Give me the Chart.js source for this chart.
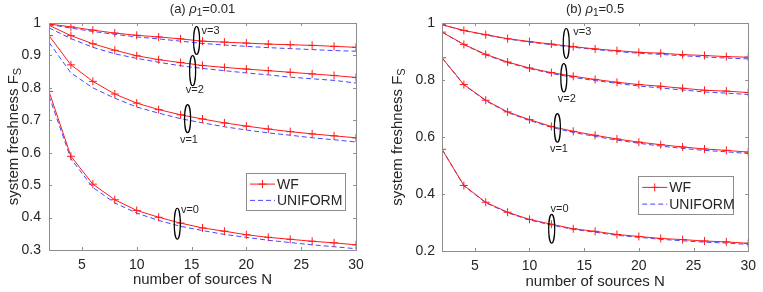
<!DOCTYPE html>
<html><head><meta charset="utf-8">
<script src="https://cdn.jsdelivr.net/npm/chart.js@4/dist/chart.umd.min.js"></script>
<style>
body{margin:0;background:#fff;width:763px;height:292px;overflow:hidden;position:relative}
.c{position:absolute;top:0;height:292px}
</style></head><body>
<div class="c" style="left:0;width:380px"><canvas id="a"></canvas></div>
<div class="c" style="left:385px;width:378px"><canvas id="b"></canvas></div>
<script>
// ---------- data ----------
const N = [2,4,6,8,10,12,14,16,18,20,22,24,26,28,30];
const xTicks = [5,10,15,20,25,30];
const yTicksA = [0.3,0.4,0.5,0.6,0.7,0.8,0.9,1];
const yTickLabelsA = ['0.3','0.4','0.5','0.6','0.7','0.8','0.9','1'];
const yTicksB = [0.2,0.4,0.6,0.8,1];
const yTickLabelsB = ['0.2','0.4','0.6','0.8','1'];
const seriesNames = ['WF','UNIFORM'];
const vLabels = ['v=0','v=1','v=2','v=3'];

// (a) rho1 = 0.01
const wfA0 = [0.789,0.589,0.503,0.455,0.422,0.401,0.383,0.368,0.358,0.347,0.339,0.333,0.327,0.322,0.316];
const unA0 = [0.775,0.581,0.493,0.445,0.414,0.391,0.373,0.360,0.348,0.339,0.330,0.323,0.316,0.310,0.304];
const wfA1 = [0.961,0.871,0.820,0.781,0.753,0.733,0.717,0.704,0.692,0.682,0.673,0.665,0.658,0.652,0.646];
const unA1 = [0.940,0.846,0.800,0.768,0.741,0.722,0.705,0.692,0.680,0.670,0.661,0.654,0.646,0.640,0.633];
const wfA2 = [0.993,0.961,0.936,0.916,0.899,0.887,0.878,0.869,0.863,0.858,0.853,0.848,0.843,0.838,0.832];
const unA2 = [0.985,0.952,0.925,0.905,0.891,0.879,0.868,0.860,0.853,0.846,0.840,0.833,0.828,0.823,0.815];
const wfA3 = [0.997,0.988,0.978,0.969,0.962,0.957,0.951,0.944,0.941,0.938,0.935,0.933,0.931,0.928,0.925];
const unA3 = [0.996,0.984,0.974,0.965,0.957,0.951,0.944,0.937,0.932,0.928,0.924,0.921,0.918,0.915,0.913];

// (b) rho1 = 0.5
const wfB0 = [0.557,0.430,0.371,0.336,0.311,0.294,0.278,0.269,0.258,0.251,0.244,0.240,0.235,0.232,0.227];
const unB0 = [0.557,0.429,0.369,0.334,0.309,0.291,0.276,0.266,0.255,0.248,0.241,0.236,0.231,0.228,0.223];
const wfB1 = [0.878,0.784,0.729,0.688,0.661,0.637,0.620,0.606,0.593,0.582,0.573,0.565,0.558,0.553,0.547];
const unB1 = [0.878,0.783,0.727,0.686,0.658,0.634,0.616,0.602,0.589,0.578,0.568,0.560,0.553,0.548,0.542];
const wfB2 = [0.968,0.925,0.890,0.863,0.842,0.826,0.813,0.802,0.792,0.784,0.778,0.771,0.764,0.761,0.756];
const unB2 = [0.968,0.924,0.888,0.861,0.840,0.823,0.809,0.798,0.788,0.779,0.772,0.765,0.758,0.754,0.749];
const wfB3 = [0.994,0.974,0.959,0.945,0.935,0.926,0.917,0.909,0.903,0.897,0.894,0.889,0.886,0.882,0.880];
const unB3 = [0.994,0.973,0.958,0.944,0.933,0.924,0.915,0.907,0.900,0.894,0.890,0.885,0.881,0.877,0.874];

// annotation anchors (data coordinates): ellipse centre and label anchor
const ellA_N = [13.7,14.64,15.1,15.46];
const ellA_F = [0.381,0.705,0.853,0.946];
const labA_N = [14.03,14.76,15.3,15.92];
const labA_F = [0.422,0.640,0.792,0.974];
const ellB_N = [12.03,12.55,13.14,13.36];
const ellB_F = [0.278,0.632,0.808,0.928];
const labB_N = [12.75,12.69,13.41,14.01];
const labB_F = [0.349,0.557,0.735,0.968];

// ---------- styling ----------
const FONT = '"Liberation Sans", Arial, Helvetica, sans-serif';
const TXT = '#262626';
const AXC = '#8e8e8e';
const RED = '#ff1a1a';
const BLUE = '#4646ff';

function pts(arr){ return N.map((n,i)=>({x:n,y:arr[i]})); }
function wfSet(arr){ return {label:seriesNames[0], data:pts(arr), borderColor:RED, borderWidth:1, pointStyle:'cross', pointRadius:4, pointBorderColor:RED, pointBorderWidth:1, tension:0, fill:false, order:1}; }
function unSet(arr){ return {label:seriesNames[1], data:pts(arr), borderColor:BLUE, borderWidth:1, borderDash:[5,3], pointRadius:0, tension:0, fill:false, order:2}; }

function drawRich(ctx, segs, cx, cy, align){
  let w = 0;
  segs.forEach(s=>{ ctx.font = (s.italic?'italic ':'') + s.size + 'px ' + FONT; s.w = ctx.measureText(s.t).width; w += s.w; });
  let x = align==='center' ? cx - w/2 : cx;
  ctx.textBaseline = 'alphabetic'; ctx.textAlign = 'left';
  segs.forEach(s=>{ ctx.font = (s.italic?'italic ':'') + s.size + 'px ' + FONT; ctx.fillText(s.t, x, cy + (s.dy||0)); x += s.w; });
}

function makePlugin(cfg){
  return {
    id:'matlabDecor',
    afterDraw(chart){
      const {ctx, chartArea:ca, scales:{x, y}} = chart;
      ctx.save();
      // frame
      ctx.strokeStyle = AXC; ctx.lineWidth = 1;
      ctx.strokeRect(Math.round(ca.left)+0.5, Math.round(ca.top)+0.5, Math.round(ca.right-ca.left), Math.round(ca.bottom-ca.top));
      // inward ticks
      ctx.beginPath();
      xTicks.forEach(v=>{ const px = Math.round(x.getPixelForValue(v))+0.5;
        ctx.moveTo(px, ca.bottom); ctx.lineTo(px, ca.bottom-3);
        ctx.moveTo(px, ca.top); ctx.lineTo(px, ca.top+3); });
      cfg.yTicks.forEach(v=>{ const py = Math.round(y.getPixelForValue(v))+0.5;
        ctx.moveTo(ca.left, py); ctx.lineTo(ca.left+3, py);
        ctx.moveTo(ca.right, py); ctx.lineTo(ca.right-3, py); });
      ctx.stroke();
      // ellipses and v labels
      ctx.strokeStyle = '#000'; ctx.lineWidth = 1.2; ctx.fillStyle = TXT;
      for (let i=0;i<4;i++){
        const ex = x.getPixelForValue(cfg.ellN[i]), ey = y.getPixelForValue(cfg.ellF[i]);
        ctx.beginPath(); ctx.ellipse(ex, ey, 3, cfg.ellRy[i], 0, 0, Math.PI*2); ctx.stroke();
        const lx = x.getPixelForValue(cfg.labN[i]), ly = y.getPixelForValue(cfg.labF[i]);
        ctx.font = '11px ' + FONT; ctx.textBaseline = 'middle';
        ctx.textAlign = cfg.labAlign[i];
        ctx.fillText(vLabels[i], lx, ly);
      }
      // title
      ctx.fillStyle = TXT;
      const tcx = (ca.left+ca.right)/2;
      drawRich(ctx, [
        {t:cfg.titlePre, size:13},
        {t:'\u03C1', size:13, italic:true},
        {t:'1', size:10, dy:3},
        {t:cfg.titlePost, size:13}
      ], tcx, 13, 'center');
      // x axis title
      ctx.font = '15px ' + FONT; ctx.textAlign = 'center'; ctx.textBaseline = 'middle';
      ctx.fillText('number of sources N', tcx, cfg.xTitleY);
      // y axis title
      ctx.save();
      ctx.translate(cfg.yTitleX, (ca.top+ca.bottom)/2);
      ctx.rotate(-Math.PI/2);
      drawRich(ctx, [
        {t:'system freshness F', size:15},
        {t:'S', size:11, dy:3}
      ], 0, 5, 'center');
      ctx.restore();
      // legend
      const L = ca.right - cfg.legRight - cfg.legW, T = ca.top + cfg.legTop;
      ctx.fillStyle = '#fff';
      ctx.fillRect(L, T, cfg.legW, cfg.legH);
      ctx.strokeStyle = AXC; ctx.lineWidth = 1;
      ctx.strokeRect(Math.round(L)+0.5, Math.round(T)+0.5, cfg.legW, cfg.legH);
      const rows = [T + cfg.legH*0.3, T + cfg.legH*0.74];
      ctx.strokeStyle = RED; ctx.lineWidth = 1; ctx.setLineDash([]);
      ctx.beginPath(); ctx.moveTo(L+4, rows[0]); ctx.lineTo(L+29, rows[0]); ctx.stroke();
      ctx.beginPath(); ctx.moveTo(L+16.5-4, rows[0]); ctx.lineTo(L+16.5+4, rows[0]);
      ctx.moveTo(L+16.5, rows[0]-4); ctx.lineTo(L+16.5, rows[0]+4); ctx.stroke();
      ctx.strokeStyle = BLUE; ctx.setLineDash([5,3]);
      ctx.beginPath(); ctx.moveTo(L+4, rows[1]); ctx.lineTo(L+29, rows[1]); ctx.stroke();
      ctx.setLineDash([]);
      ctx.fillStyle = TXT; ctx.font = '14px ' + FONT; ctx.textAlign = 'left'; ctx.textBaseline = 'middle';
      ctx.fillText(seriesNames[0], L+31, rows[0]+1);
      ctx.fillText(seriesNames[1], L+31, rows[1]+1);
      ctx.restore();
    }
  };
}

function makeChart(id, sets, cfg){
  new Chart(document.getElementById(id), {
    type:'line',
    data:{datasets:sets},
    options:{
      responsive:true, maintainAspectRatio:false, animation:false,
      layout:{padding:{top:cfg.padTop, right:cfg.padRight, left:0, bottom:0}},
      plugins:{legend:{display:false}, tooltip:{enabled:false}, title:{display:false}},
      scales:{
        x:{type:'linear', min:2, max:30,
           afterBuildTicks:s=>{ s.ticks = xTicks.map(v=>({value:v})); },
           grid:{display:false, drawTicks:false}, border:{display:false},
           ticks:{padding:7, color:TXT, font:{family:FONT, size:14}, maxRotation:0, callback:v=>String(v)},
           afterFit:s=>{ s.height = cfg.xH; }},
        y:{type:'linear', min:cfg.yMin, max:1,
           afterBuildTicks:s=>{ s.ticks = cfg.yTicks.map(v=>({value:v})); },
           grid:{display:false, drawTicks:false}, border:{display:false},
           ticks:{padding:cfg.yPad, color:TXT, font:{family:FONT, size:14},
                  callback:v=>{ const i = cfg.yTicks.findIndex(t=>Math.abs(t-v)<1e-9); return i>=0 ? cfg.yTickLabels[i] : ''; }},
           afterFit:s=>{ s.width = cfg.yW; }}
      }
    },
    plugins:[makePlugin(cfg)]
  });
}

makeChart('a', [wfSet(wfA0),unSet(unA0),wfSet(wfA1),unSet(unA1),wfSet(wfA2),unSet(unA2),wfSet(wfA3),unSet(unA3)], {
  padTop:23, padRight:24, xH:42, yW:49, yMin:0.3, yPad:8,
  yTicks:yTicksA, yTickLabels:yTickLabelsA,
  ellN:ellA_N, ellF:ellA_F, ellRy:[15.5,14,15,14], labN:labA_N, labF:labA_F,
  labAlign:['left','center','center','left'],
  titlePre:'(a) ', titlePost:'=0.01', xTitleY:280, yTitleX:13,
  legRight:11, legW:99, legH:37, legTop:150
});
makeChart('b', [wfSet(wfB0),unSet(unB0),wfSet(wfB1),unSet(unB1),wfSet(wfB2),unSet(unB2),wfSet(wfB3),unSet(unB3)], {
  padTop:23, padRight:10, xH:41, yW:57, yMin:0.2, yPad:7,
  yTicks:yTicksB, yTickLabels:yTickLabelsB,
  ellN:ellB_N, ellF:ellB_F, ellRy:[14.3,14.2,14.2,15], labN:labB_N, labF:labB_F,
  labAlign:['center','center','center','left'],
  titlePre:'(b) ', titlePost:'=0.5', xTitleY:282, yTitleX:12,
  legRight:15, legW:95, legH:38, legTop:153
});
</script>
</body></html>
